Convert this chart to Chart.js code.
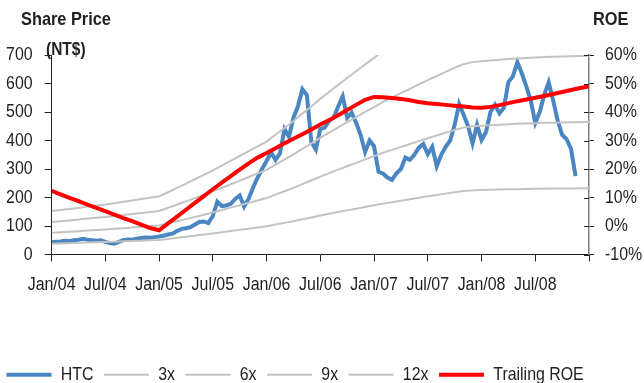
<!DOCTYPE html>
<html>
<head>
<meta charset="utf-8">
<script src="https://cdn.jsdelivr.net/npm/chart.js@4.4.1/dist/chart.umd.min.js"></script>
<style>
  html, body { margin: 0; padding: 0; background: #fff; overflow: hidden; width: 644px; height: 383px; }
  #wrap { position: relative; width: 644px; height: 383px; overflow: hidden; }
  #c { position: absolute; left: -4px; top: 0; }
</style>
</head>
<body>
<div id="wrap"><canvas id="c" width="648" height="394" style="width:648px;height:394px"></canvas></div>
<script>
// ---- data ----
// x tick labels, one every six months starting Jan 2004
const xTickLabels = ['Jan/04','Jul/04','Jan/05','Jul/05','Jan/06','Jul/06','Jan/07','Jul/07','Jan/08','Jul/08'];

// HTC share price (NT$), one reading every half month from Jan 2004
const htcPrice = [
  43, 45, 46, 48, 47, 50, 52, 55, 52, 50,
  48, 50, 44, 40, 38, 44, 50, 53, 52, 55,
  58, 60, 59, 61, 63, 66, 70, 73, 82, 90,
  92, 96, 105, 114, 116, 110, 135, 185, 170, 172,
  178, 195, 207, 168, 196, 235, 270, 300, 328, 358,
  332, 355, 440, 413, 480, 520, 580, 560, 395, 368,
  440, 445, 470, 480, 520, 555, 480, 498, 462, 420,
  360, 400, 380, 290, 284, 270, 262, 285, 300, 340,
  332, 350, 375, 388, 352, 378, 310, 350, 378, 400,
  455, 528, 490, 450, 390, 455, 402, 430, 500, 525,
  495, 515, 605, 625, 675, 636, 590, 540, 462, 500,
  560, 604, 540, 470, 420, 405, 370, 275
];

// Trailing EPS (NT$), monthly from Jan 2004 to Jan 2009
const trailingEPS = [
  12.7, 13.0, 13.3, 13.6, 14.0, 14.3, 14.6, 15.0, 15.4, 15.8,
  16.2, 16.6, 17.0, 18.2, 19.5, 20.7, 22.0, 23.3, 24.6, 26.0,
  27.4, 28.8, 30.2, 31.6, 33.0, 35.0, 37.0, 39.0, 41.2, 43.3,
  45.5, 47.6, 49.6, 51.6, 53.6, 55.6, 57.5, 59.5, 61.2, 62.9,
  64.6, 66.3, 68.0, 69.6, 71.2, 72.8, 74.2, 75.0, 75.3, 75.6,
  75.9, 76.2, 76.4, 76.6, 76.8, 77.0, 77.1, 77.2, 77.3, 77.4, 77.5
];

// P/E band multiples
const peMultiples = [3, 6, 9, 12];
const peLabels = ['3x', '6x', '9x', '12x'];

// Trailing ROE (%), monthly from Jan 2004 to Jan 2009
const trailingROE = [
  12.3, 11.1, 9.9, 8.7, 7.5, 6.4, 5.2, 4.0, 2.8, 1.7,
  0.5, -0.7, -1.5, 0.9, 3.3, 5.7, 8.1, 10.5, 12.9, 15.2,
  17.5, 19.8, 22.0, 24.0, 25.6, 27.3, 29.0, 30.6, 32.2, 33.9,
  35.6, 37.2, 38.9, 40.7, 42.5, 44.3, 45.3, 45.2, 44.9, 44.6,
  44.1, 43.5, 43.1, 42.8, 42.5, 42.2, 41.9, 41.6, 41.5, 41.8,
  42.4, 43.1, 43.8, 44.4, 45.0, 45.6, 46.3, 47.0, 47.7, 48.4, 49.0
];

// ---- narrow text: Liberation Sans compressed horizontally (Arial Narrow look) ----
const SX = 0.86;
(function () {
  const proto = CanvasRenderingContext2D.prototype;
  const origFill = proto.fillText;
  const origMeasure = proto.measureText;
  proto.fillText = function (t, x, y, mw) {
    this.save();
    this.translate(x, y);
    this.scale(SX, 1);
    if (mw === undefined || mw === null) origFill.call(this, t, 0, 0);
    else origFill.call(this, t, 0, 0, mw / SX);
    this.restore();
  };
  proto.measureText = function (t) {
    const m = origMeasure.call(this, t);
    return {
      width: m.width * SX,
      actualBoundingBoxLeft: m.actualBoundingBoxLeft * SX,
      actualBoundingBoxRight: m.actualBoundingBoxRight * SX,
      actualBoundingBoxAscent: m.actualBoundingBoxAscent,
      actualBoundingBoxDescent: m.actualBoundingBoxDescent,
      fontBoundingBoxAscent: m.fontBoundingBoxAscent,
      fontBoundingBoxDescent: m.fontBoundingBoxDescent
    };
  };
})();

// ---- build datasets ----
const FONT = "'Liberation Sans', Arial, sans-serif";
const FS = 18.5;
const TXT = '#222222';

const priceData = htcPrice.map((v, i) => ({ x: i / 2, y: v }));
const roeData = trailingROE.map((v, i) => ({ x: i, y: v }));
const bandSets = peMultiples.map((m, k) => ({
  label: peLabels[k],
  data: trailingEPS.map((e, i) => ({ x: i, y: e * m })),
  borderColor: '#c3c3c3',
  backgroundColor: '#c3c3c3',
  borderWidth: 2,
  pointRadius: 0,
  yAxisID: 'y',
  order: 4 - k
}));

const datasets = [
  { label: 'HTC', data: priceData, borderColor: '#4a86c1', backgroundColor: '#4a86c1',
    borderWidth: 4, pointRadius: 0, yAxisID: 'y', order: 5 },
  ...bandSets,
  { label: 'Trailing ROE', data: roeData, borderColor: '#ff0000', backgroundColor: '#ff0000',
    borderWidth: 4, pointRadius: 0, yAxisID: 'y1', order: 0 }
];

const titlePlugin = {
  id: 'titles',
  afterDraw(chart) {
    const ctx = chart.ctx;
    ctx.save();
    ctx.fillStyle = TXT;
    ctx.textBaseline = 'middle';
    ctx.textAlign = 'left';
    ctx.font = "bold 19px " + FONT;
    ctx.fillText('Share Price', 25, 20);
    ctx.fillText('ROE', 597, 20);
    ctx.font = "bold 18px " + FONT;
    ctx.fillText('(NT$)', 50, 50);
    // inner half of right-axis tick marks
    const s = chart.scales.y1;
    ctx.strokeStyle = '#222';
    ctx.lineWidth = 1;
    s.ticks.forEach(t => {
      const py = Math.round(s.getPixelForValue(t.value)) + 0.5;
      ctx.beginPath();
      ctx.moveTo(s.left - 5, py);
      ctx.lineTo(s.left, py);
      ctx.stroke();
    });
    ctx.restore();
  }
};

new Chart(document.getElementById('c'), {
  type: 'line',
  data: { datasets },
  options: {
    responsive: false,
    animation: false,
    devicePixelRatio: 1,
    layout: { padding: { top: 55, left: 0, right: 0, bottom: 0 } },
    plugins: {
      tooltip: { enabled: false },
      legend: {
        position: 'bottom',
        align: 'start',
        labels: {
          usePointStyle: true,
          pointStyle: 'line',
          pointStyleWidth: 45,
          padding: 10.5,
          color: TXT,
          font: { family: FONT, size: FS },
          sort: (a, b) => a.datasetIndex - b.datasetIndex
        }
      }
    },
    scales: {
      x: {
        type: 'linear',
        min: 0, max: 60,
        ticks: {
          stepSize: 6, autoSkip: false, maxRotation: 0, padding: 12.4,
          color: TXT, font: { family: FONT, size: FS },
          callback: (v) => xTickLabels[v / 6] || ''
        },
        grid: { drawOnChartArea: false, drawTicks: true, tickLength: 7, color: '#222' },
        border: { display: true, color: '#222', width: 1 },
        afterFit: (s) => { s.height = 100.5; }
      },
      y: {
        position: 'left',
        min: 0, max: 700,
        ticks: { stepSize: 100, padding: 12, color: TXT, font: { family: FONT, size: FS } },
        grid: { drawOnChartArea: false, drawTicks: true, tickLength: 7, color: '#222' },
        border: { display: true, color: '#222', width: 1 },
        afterFit: (s) => { s.width = 55.6; }
      },
      y1: {
        position: 'right',
        min: -10, max: 60,
        ticks: { stepSize: 10, padding: 11, color: TXT, font: { family: FONT, size: FS },
          callback: (v) => v + '%' },
        grid: { drawOnChartArea: false, drawTicks: true, tickLength: 5, color: '#222' },
        border: { display: true, color: '#808080', width: 1.5 },
        afterFit: (s) => { s.width = 55; }
      }
    }
  },
  plugins: [titlePlugin]
});
</script>
</body>
</html>
